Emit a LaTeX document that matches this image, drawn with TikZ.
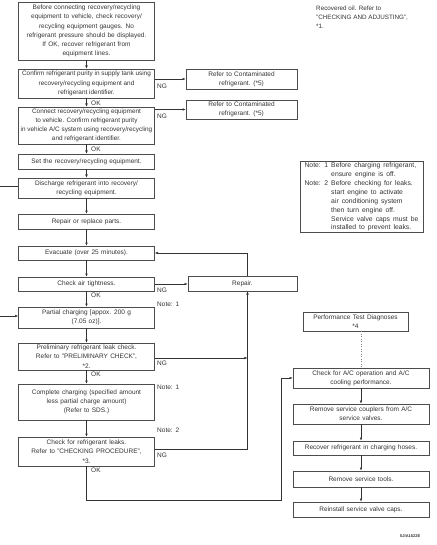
\documentclass[tikz,border=0pt]{standalone}
\usepackage{fontspec}
\setmainfont{Liberation Sans}
\usetikzlibrary{arrows.meta}
\newcommand\myfs{\fontsize{6.5}{9.2}\selectfont\spaceskip=2.3pt plus 0.5pt minus 0.3pt\relax}
\newcommand\mytightfs{\fontsize{6.4}{9.2}\selectfont\spaceskip=0pt\relax}
\newcommand\mynotefs{\fontsize{6.8}{8.9}\selectfont\spaceskip=3pt plus 0.5pt minus 0.3pt\relax}
\begin{document}
\begin{tikzpicture}[x=1pt,y=-1pt,
  box/.style={draw=black!70, line width=0.6pt, inner sep=0pt, align=center, font=\myfs, text=black!80},
  lbox/.style={box, minimum width=136pt},
  arr/.style={-{Latex[length=3.2pt,width=2.6pt]}, line width=0.5pt, draw=black!80},
  ln/.style={line width=0.5pt, draw=black!80},
  lbl/.style={anchor=west, inner sep=0pt, font=\myfs, text=black!80},
]
\useasboundingbox (0,0) rectangle (436,545);
% left column
\node[lbox, minimum height=58pt] (L1) at (86.5,31) {Before connecting recovery/recycling\\ equipment to vehicle, check recovery/\\ recycling equipment gauges. No\\ refrigerant pressure should be displayed.\\ If OK, recover refrigerant from\\ equipment lines.};
\node[lbox, minimum height=29pt, font=\mytightfs] (L2) at (86.5,83.5) {Confirm refrigerant purity in supply tank using\\ recovery/recycling equipment and\\ refrigerant identifier.};
\node[lbox, minimum height=37pt, font=\mytightfs] (L3) at (86.5,125.5) {Connect recovery/recycling equipment\\ to vehicle. Confirm refrigerant purity\\ in vehicle A/C system using recovery/recycling\\ and refrigerant identifier.};
\node[lbox, minimum height=15pt] (L4) at (86.5,161.5) {Set the recovery/recycling equipment.};
\node[lbox, minimum height=20pt] (L5) at (86.5,188) {Discharge refrigerant into recovery/\\ recycling equipment.};
\node[lbox, minimum height=15pt] (L6) at (86.5,221.5) {Repair or replace parts.};
\node[lbox, minimum height=14pt] (L7) at (86.5,253) {Evacuate (over 25 minutes).};
\node[lbox, minimum height=14pt] (L8) at (86.5,284) {Check air tightness.};
\node[lbox, minimum height=21pt] (L9) at (86.5,317.5) {Partial charging [appox. 200 g\\ (7.05 oz)].};
\node[lbox, minimum height=27pt] (L10) at (86.5,356.5) {Preliminary refrigerant leak check.\\ Refer to "PRELIMINARY CHECK",\\ *2.};
\node[lbox, minimum height=36pt] (L11) at (86.5,402) {Complete charging (specified amount\\ less partial charge amount)\\ (Refer to SDS.)};
\node[lbox, minimum height=29pt] (L12) at (86.5,451.5) {Check for refrigerant leaks.\\ Refer to "CHECKING PROCEDURE",\\ *3.};
% middle
\node[box, minimum width=111pt, minimum height=20pt] (C1) at (241.5,79) {Refer to Contaminated\\ refrigerant. (*5)};
\node[box, minimum width=111pt, minimum height=19pt] (C2) at (241.5,109.5) {Refer to Contaminated\\ refrigerant. (*5)};
\node[box, minimum width=109pt, minimum height=15pt] (Rep) at (242.5,283.5) {Repair.};
% right column
\node[box, minimum width=105pt, minimum height=19pt] (Perf) at (355.5,321.5) {Performance Test Diagnoses\\ *4};
\node[box, minimum width=136pt, minimum height=20pt] (R1) at (361,378) {Check for A/C operation and A/C\\ cooling performance.};
\node[box, minimum width=136pt, minimum height=20pt] (R2) at (361,414) {Remove service couplers from A/C\\ service valves.};
\node[box, minimum width=136pt, minimum height=14pt] (R3) at (361,448) {Recover refrigerant in charging hoses.};
\node[box, minimum width=136pt, minimum height=16pt] (R4) at (361,479) {Remove service tools.};
\node[box, minimum width=136pt, minimum height=15pt] (R5) at (361,509.5) {Reinstall service valve caps.};
% notes
\node[anchor=north west, inner sep=0pt, align=left, font=\fontsize{6.3}{8.7}\selectfont, text=black!80] (top) at (316,6) {Recovered oil. Refer to\\ "CHECKING AND ADJUSTING",\\ *1.};
\node[box, minimum width=123pt, minimum height=70pt, font=\mynotefs] (Note) at (361.5,197) {\begin{tabular}{@{}l@{\hspace{3pt}}l@{}}Note: 1 & Before charging refrigerant,\\ & ensure engine is off.\\ Note: 2 & Before checking for leaks.\\ & start engine to activate\\ & air conditioning system\\ & then turn engine off.\\ & Service valve caps must be\\ & installed to prevent leaks.\end{tabular}};
\node[inner sep=0pt, font=\fontsize{4}{4}\selectfont\bfseries, text=black!80] (code) at (410,536) {SJIA1622E};
% connectors left column
\draw[arr] (L1) -- (L2);
\draw[arr] (L2) -- (L3);
\draw[arr] (L3) -- (L4);
\draw[arr] (L4) -- (L5);
\draw[arr] (L5) -- (L6);
\draw[arr] (L6) -- (L7);
\draw[arr] (L7) -- (L8);
\draw[arr] (L8) -- (L9);
\draw[arr] (L9) -- (L10);
\draw[arr] (L10) -- (L11);
\draw[arr] (L11) -- (L12);
% NG branches
\draw[arr] (L2.east |- C1.west) -- (C1.west);
\draw[arr] (L3.east |- C2.west) -- (C2.west);
\draw[arr] (L8.east) -- (L8.east -| Rep.west);
\draw[arr] ([xshift=5pt]Rep.north) |- (L7.east);
\coordinate (v) at ([xshift=5pt]Rep.south);
\coordinate (n12) at ([yshift=2.5pt]L12.east);
\draw[arr] (n12) -| (v);
\coordinate (n10) at ([yshift=-1.5pt]L10.east);
\draw[arr] (n10) -- (n10 -| v);
% OK to right column
\coordinate (c1) at (281,500);
\draw[arr] (L12.south) |- (c1) |- (R1.west);
\draw[dotted, line width=0.5pt, draw=black!50] (R1.north |- Perf.south) -- (R1.north);
\draw[arr] (R1) -- (R2);
\draw[arr] (R2) -- (R3);
\draw[arr] (R3) -- (R4);
\draw[arr] (R4) -- (R5);
% left edge
\coordinate (e1) at (0,186);
\draw[ln] (e1) -- (e1 -| L5.west);
\coordinate (e2) at (0,316);
\draw[arr] (e2) -- (e2 -| L9.west);
% labels
\node[lbl] (ok1) at (91,103) {OK};
\node[lbl] (ok2) at (91,149.5) {OK};
\node[lbl] (ok3) at (91,295) {OK};
\node[lbl] (ok4) at (91,374) {OK};
\node[lbl] (ok5) at (91,470) {OK};
\node[lbl] (ng1) at (157,86) {NG};
\node[lbl] (ng2) at (157,116.5) {NG};
\node[lbl] (ng3) at (157,290) {NG};
\node[lbl] (ng4) at (157,363) {NG};
\node[lbl] (ng5) at (157,455) {NG};
\node[lbl] (nt1) at (157,304) {Note: 1};
\node[lbl] (nt2) at (157,387) {Note: 1};
\node[lbl] (nt3) at (157,430) {Note: 2};
\end{tikzpicture}
\end{document}
